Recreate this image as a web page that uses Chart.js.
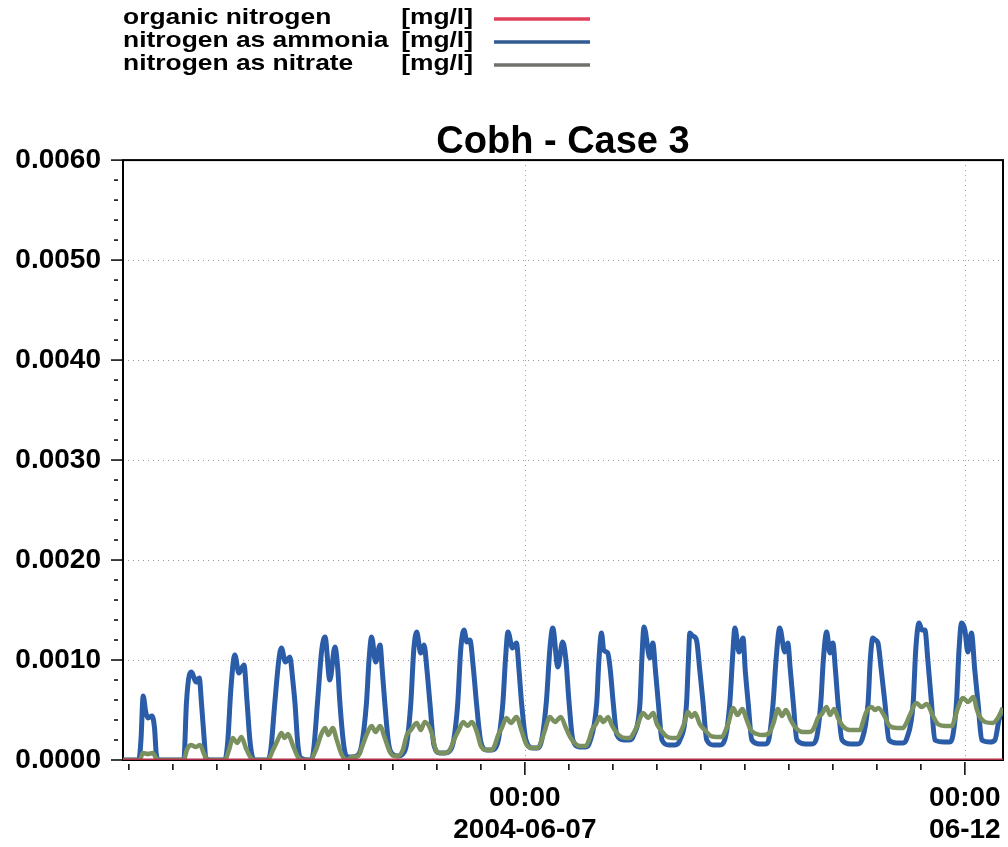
<!DOCTYPE html>
<html>
<head>
<meta charset="utf-8">
<script src="https://cdn.jsdelivr.net/npm/chart.js@4.4.1/dist/chart.umd.min.js"></script>
<style>
  html, body { margin: 0; padding: 0; background: #fff; }
  #chart { display: block; }
</style>
</head>
<body>
<canvas id="chart" width="1008" height="847"></canvas>
<script>
// Series names / units shown in the legend
const seriesNames = ['organic nitrogen', 'nitrogen as ammonia', 'nitrogen as nitrate'];
const unitLabel = '[mg/l]';
const seriesColors = ['#b23049', '#2a5ca8', '#7a915f'];
const legendColors = ['#e0405a', '#2f5a92', '#6e716c'];

// [hours since 2004-06-02 00:00, concentration mg/l]
const organicNitrogen = [[10.4, 0], [250.4, 0]];

const ammonia = [
  [10.4,0],[14.7,0],[15.3,0.0002],[15.9,0.00064],[16.6,0.00048],[17.2,0.00042],[18.3,0.00044],[19.0,0.00032],[19.5,0.00005],[20.2,0],
  [27.0,0],[27.7,0.00057],[28.5,0.00085],[29.1,0.00088],[30.3,0.00078],[31.2,0.00082],[31.8,0.00057],[32.5,0.00023],[33.0,0.00002],[34.1,0],
  [38.2,0],[39.0,0.0002],[39.8,0.0007],[40.9,0.00105],[42.0,0.00087],[43.4,0.00095],[44.2,0.0006],[45.0,0.0002],[45.8,0.00002],[46.6,0],
  [49.9,0],[50.7,0.0001],[51.8,0.00057],[52.9,0.001],[53.6,0.00112],[54.7,0.00098],[55.9,0.00103],[56.7,0.0008],[57.3,0.00057],[58.1,0.00015],[58.9,0.00002],
  [61.4,0],[62.2,0.00005],[63.5,0.0006],[64.6,0.0011],[65.5,0.00123],[66.8,0.0008],[68.2,0.00113],[69.0,0.0009],[69.5,0.0006],[70.6,0.00015],[71.5,0.00003],
  [72.8,0.00003],[74.5,0.00005],[75.5,0.00015],[76.8,0.00057],[77.5,0.001],[78.2,0.00123],[79.3,0.00098],[80.5,0.00115],[81.1,0.0009],[81.8,0.00057],[82.9,0.00015],[84.3,0.00005],
  [85.4,0.00004],[86.7,0.00006],[87.8,0.00017],[88.9,0.00057],[89.7,0.0011],[90.5,0.00128],[91.6,0.00107],[92.5,0.00115],[93.3,0.0009],[94.1,0.00057],[95.2,0.00015],[96.8,0.00007],
  [98.2,0.00007],[99.5,0.00009],[100.6,0.0002],[101.7,0.00057],[102.5,0.0011],[103.4,0.0013],[104.2,0.00118],[105.0,0.0012],[106.0,0.0009],[106.8,0.00057],[108.0,0.00018],[109.6,0.0001],
  [111.0,0.0001],[112.4,0.00015],[114.0,0.00057],[114.7,0.001],[115.4,0.00128],[116.6,0.00112],[117.7,0.00117],[118.4,0.0009],[119.1,0.00057],[120.3,0.0002],[122.2,0.00012],
  [123.5,0.00012],[124.6,0.0002],[125.9,0.0006],[126.8,0.0011],[127.6,0.00132],[129.0,0.00093],[130.3,0.00118],[131.2,0.001],[132.0,0.0006],[133.1,0.0002],[135.0,0.00013],
  [136.6,0.00013],[137.7,0.00018],[139.6,0.00057],[140.2,0.001],[140.9,0.00127],[141.5,0.0011],[142.6,0.00107],[143.3,0.0009],[144.1,0.00057],[145.1,0.00025],[147.0,0.0002],
  [148.6,0.0002],[149.7,0.00025],[151.4,0.00057],[151.9,0.001],[152.5,0.00133],[154.1,0.00102],[154.9,0.00117],[155.6,0.0009],[156.4,0.00057],[157.4,0.0002],[159.3,0.00015],
  [160.9,0.00015],[162.3,0.0002],[164.1,0.00057],[164.6,0.001],[165.0,0.00127],[165.8,0.00124],[166.8,0.0012],[167.7,0.0009],[168.6,0.00057],[169.6,0.0002],[171.5,0.00015],
  [173.2,0.00015],[174.5,0.0002],[175.9,0.00057],[176.6,0.001],[177.3,0.00132],[178.4,0.00108],[179.5,0.00122],[180.1,0.0009],[180.9,0.00057],[181.9,0.0002],[184.1,0.00016],
  [185.7,0.00016],[186.5,0.0002],[187.7,0.00057],[188.5,0.001],[189.5,0.00132],[190.9,0.00108],[191.7,0.00117],[192.4,0.0009],[193.2,0.00057],[194.2,0.0002],[196.6,0.00016],
  [198.3,0.00016],[199.4,0.0002],[200.7,0.00057],[201.4,0.001],[202.3,0.00128],[203.2,0.00107],[204.0,0.00117],[204.7,0.0009],[205.4,0.00057],[206.5,0.0002],[208.9,0.00016],
  [210.8,0.00016],[211.9,0.0002],[213.6,0.00057],[214.2,0.001],[214.9,0.00122],[215.6,0.0012],[216.3,0.00117],[217.2,0.0009],[218.2,0.00057],[219.3,0.0002],[221.5,0.00017],
  [223.1,0.00017],[224.2,0.00022],[225.9,0.00057],[226.6,0.0011],[227.5,0.00137],[228.3,0.0013],[229.1,0.0013],[229.9,0.001],[230.9,0.00057],[231.8,0.0002],[234.3,0.00018],
  [235.9,0.00018],[236.7,0.00024],[237.7,0.00057],[238.4,0.0011],[239.1,0.00137],[240.0,0.0013],[240.8,0.00108],[241.8,0.00127],[242.7,0.0009],[243.6,0.00057],[244.6,0.0002],[246.8,0.00018],
  [248.2,0.0002],[249.3,0.0004],[250.4,0.00052]
];

const nitrate = [
  [10.4,0],[15.0,0],[15.8,0.00007],[17.2,0.00006],[18.5,0.00007],[19.6,0.00001],[20.5,0],
  [27.0,0],[27.8,0.0001],[28.9,0.00015],[30.3,0.00013],[31.4,0.00015],[32.5,0.00006],[33.3,0],
  [38.2,0],[39.3,0.0001],[40.4,0.00022],[41.5,0.00017],[42.7,0.00023],[43.9,0.00012],[45.3,0.00002],[46.6,0],
  [49.9,0],[51.3,0.0001],[52.6,0.0002],[53.6,0.00027],[54.5,0.00022],[55.4,0.00026],[56.7,0.00015],[58.1,0.00003],[59.2,0],
  [61.4,0],[63.0,0.0001],[64.4,0.00025],[65.5,0.00032],[66.4,0.00025],[67.6,0.00032],[68.7,0.0002],[70.1,0.00005],[71.5,0],
  [72.8,0.00003],[74.5,0.00004],[75.5,0.00012],[76.9,0.00026],[78.2,0.00034],[79.3,0.00028],[80.5,0.00034],[81.8,0.00022],[83.2,0.00008],[84.3,0.00004],
  [85.4,0.00004],[86.7,0.0001],[87.8,0.00025],[88.9,0.0003],[90.5,0.00037],[91.6,0.0003],[92.7,0.00038],[94.6,0.00027],[95.7,0.0001],[96.8,0.00007],
  [98.2,0.00007],[99.5,0.0001],[100.9,0.00022],[102.0,0.0003],[103.2,0.00038],[104.4,0.00034],[105.5,0.00038],[106.9,0.00028],[108.0,0.00014],[109.6,0.0001],
  [111.0,0.0001],[111.8,0.00015],[112.7,0.00025],[113.7,0.00032],[115.0,0.00042],[116.2,0.00037],[117.7,0.00043],[119.2,0.00028],[120.5,0.00015],[122.2,0.00012],
  [123.5,0.00012],[124.6,0.0002],[125.5,0.0003],[126.8,0.00043],[128.2,0.00038],[129.8,0.00043],[131.2,0.00032],[132.5,0.00022],[135.0,0.00014],
  [136.6,0.00014],[137.5,0.0002],[138.3,0.0003],[139.4,0.00036],[140.5,0.00043],[141.4,0.00038],[142.7,0.00043],[143.7,0.00035],[144.5,0.0003],[145.9,0.00024],[147.5,0.00022],
  [148.6,0.00022],[149.5,0.00026],[150.5,0.00033],[152.3,0.00047],[153.6,0.00042],[155.0,0.00047],[156.0,0.00036],[157.1,0.0003],[158.5,0.00024],[160.1,0.00022],
  [161.5,0.00022],[162.5,0.00028],[163.4,0.00036],[164.5,0.00048],[165.5,0.00043],[166.4,0.00047],[167.7,0.00036],[169.1,0.0003],[170.7,0.00024],[172.4,0.00023],
  [173.7,0.00023],[174.8,0.0003],[175.6,0.00038],[176.8,0.00052],[178.0,0.00045],[179.3,0.00051],[180.5,0.0004],[181.6,0.0003],[183.3,0.00026],[184.9,0.00025],
  [186.3,0.00026],[187.1,0.0003],[187.9,0.00038],[189.0,0.00051],[190.1,0.00044],[191.2,0.0005],[192.5,0.0004],[193.9,0.00032],[195.8,0.00028],[197.5,0.00028],
  [198.3,0.00029],[199.1,0.00034],[199.9,0.00042],[201.0,0.00046],[202.3,0.00053],[203.2,0.00045],[204.4,0.00051],[205.4,0.00042],[206.7,0.00034],[208.6,0.0003],[210.3,0.0003],
  [211.4,0.0003],[212.2,0.00038],[213.0,0.00047],[214.5,0.00053],[215.5,0.0005],[216.4,0.00052],[218.2,0.00043],[219.5,0.00034],[221.5,0.00032],
  [223.1,0.00032],[223.9,0.00036],[225.0,0.00045],[226.8,0.00057],[228.2,0.00053],[229.6,0.00056],[231.3,0.00044],[232.6,0.00036],[234.8,0.00034],
  [236.5,0.00034],[237.3,0.00042],[238.1,0.00052],[239.5,0.00062],[240.9,0.00058],[242.3,0.00063],[243.3,0.0005],[244.1,0.00043],[245.5,0.00038],[247.6,0.00037],
  [249.0,0.00042],[250.4,0.00052]
];

// x ticks every 12 h; labels only at midnight of 06-07 and 06-12
const xTickHours = [12, 24, 36, 48, 60, 72, 84, 96, 108, 120, 132, 144, 156, 168, 180, 192, 204, 216, 228, 240];
const xTickLabels = { 120: ['00:00', '2004-06-07'], 240: ['00:00', '06-12'] };
const xRange = [10.4, 250.4];
const yRange = [0, 0.006];

const FONT = "'Liberation Sans', Arial, sans-serif";
Chart.defaults.font.family = FONT;
Chart.defaults.color = '#000';

const isMajorY = v => Math.abs(v * 1000 - Math.round(v * 1000)) < 1e-6;
const toPoints = arr => arr.map(p => ({ x: p[0], y: p[1] }));

// frame, dotted grid, tick marks and the legend block
const framePlugin = {
  id: 'frame',
  beforeDatasetsDraw(chart) {
    const { ctx, chartArea: a } = chart;
    const xs = chart.scales.x, ys = chart.scales.y;
    ctx.save();
    ctx.strokeStyle = '#9a9a9a';
    ctx.lineWidth = 1;
    ctx.setLineDash([1, 4]);
    ys.ticks.forEach(t => {
      if (!isMajorY(t.value) || t.value <= 0 || t.value >= yRange[1]) return;
      const y = Math.round(ys.getPixelForValue(t.value)) + 0.5;
      ctx.beginPath(); ctx.moveTo(a.left, y); ctx.lineTo(a.right, y); ctx.stroke();
    });
    xs.ticks.forEach(t => {
      if (!xTickLabels[t.value]) return;
      const x = Math.round(xs.getPixelForValue(t.value)) + 0.5;
      ctx.beginPath(); ctx.moveTo(x, a.top); ctx.lineTo(x, a.bottom); ctx.stroke();
    });
    ctx.setLineDash([]);
    ctx.strokeStyle = '#000';
    ctx.lineWidth = 2;
    ctx.strokeRect(a.left, a.top, a.right - a.left, a.bottom - a.top);
    ctx.restore();
  },
  afterDraw(chart) {
    const { ctx, chartArea: a } = chart;
    const xs = chart.scales.x, ys = chart.scales.y;
    ctx.save();
    ctx.strokeStyle = '#000';
    ctx.lineWidth = 1.5;
    ys.ticks.forEach(t => {
      const y = ys.getPixelForValue(t.value);
      ctx.beginPath();
      if (isMajorY(t.value)) { ctx.moveTo(a.left - 12, y); ctx.lineTo(a.left, y); }
      else { ctx.moveTo(a.left - 9, y); ctx.lineTo(a.left - 5, y); }
      ctx.stroke();
    });
    xs.ticks.forEach(t => {
      const x = xs.getPixelForValue(t.value);
      ctx.beginPath();
      if (xTickLabels[t.value]) { ctx.moveTo(x, a.bottom + 2); ctx.lineTo(x, a.bottom + 15); }
      else { ctx.moveTo(x, a.bottom + 4); ctx.lineTo(x, a.bottom + 10); }
      ctx.stroke();
    });

    // legend: name, unit column, line sample
    const rowY = [18, 41, 64];
    const stretch = 1.2;
    ctx.font = 'bold 22px ' + FONT;
    ctx.textBaseline = 'middle';
    seriesNames.forEach((name, i) => {
      ctx.save();
      ctx.scale(stretch, 1);
      ctx.fillStyle = '#000';
      ctx.textAlign = 'left';
      ctx.fillText(name, 123 / stretch, rowY[i]);
      ctx.textAlign = 'right';
      ctx.fillText(unitLabel, 473 / stretch, rowY[i]);
      ctx.restore();
      ctx.strokeStyle = legendColors[i];
      ctx.lineWidth = 3.5;
      ctx.beginPath();
      ctx.moveTo(494, rowY[i] + 1);
      ctx.lineTo(590, rowY[i] + 1);
      ctx.stroke();
    });
    ctx.restore();
  }
};

new Chart(document.getElementById('chart'), {
  type: 'line',
  data: {
    datasets: [
      { label: seriesNames[0], data: toPoints(organicNitrogen), borderColor: seriesColors[0], borderWidth: 3, order: 0 },
      { label: seriesNames[2], data: toPoints(nitrate), borderColor: seriesColors[2], borderWidth: 4.5, order: 1 },
      { label: seriesNames[1], data: toPoints(ammonia), borderColor: seriesColors[1], borderWidth: 5, order: 2 }
    ]
  },
  options: {
    responsive: false,
    animation: false,
    devicePixelRatio: 1,
    parsing: false,
    elements: {
      point: { radius: 0 },
      line: { cubicInterpolationMode: 'monotone', fill: false }
    },
    layout: { padding: { left: 0, right: 5, top: 124, bottom: 0 } },
    plugins: {
      legend: { display: false },
      tooltip: { enabled: false },
      title: {
        display: true,
        fullSize: false,
        text: 'Cobh - Case 3',
        color: '#000',
        font: { size: 38, weight: 'bold', lineHeight: 0.95 },
        padding: { top: 0, bottom: 0 }
      }
    },
    scales: {
      x: {
        type: 'linear',
        min: xRange[0],
        max: xRange[1],
        afterBuildTicks: s => { s.ticks = xTickHours.map(v => ({ value: v })); },
        afterFit: s => { s.height = 87; s.paddingLeft = 0; s.paddingRight = 0; },
        grid: { display: false, drawTicks: false },
        border: { display: false },
        ticks: {
          autoSkip: false,
          maxRotation: 0,
          padding: 23,
          color: '#000',
          font: { size: 28, weight: 'bold', lineHeight: 1.12 },
          callback: v => xTickLabels[v] || ''
        }
      },
      y: {
        min: yRange[0],
        max: yRange[1],
        afterFit: s => { s.width = 123; },
        grid: { display: false, drawTicks: false },
        border: { display: false },
        ticks: {
          stepSize: 0.0002,
          autoSkip: false,
          padding: 22,
          color: '#000',
          font: { size: 28, weight: 'bold' },
          callback: v => isMajorY(v) ? v.toFixed(4) : ''
        }
      }
    }
  },
  plugins: [framePlugin]
});
</script>
</body>
</html>
